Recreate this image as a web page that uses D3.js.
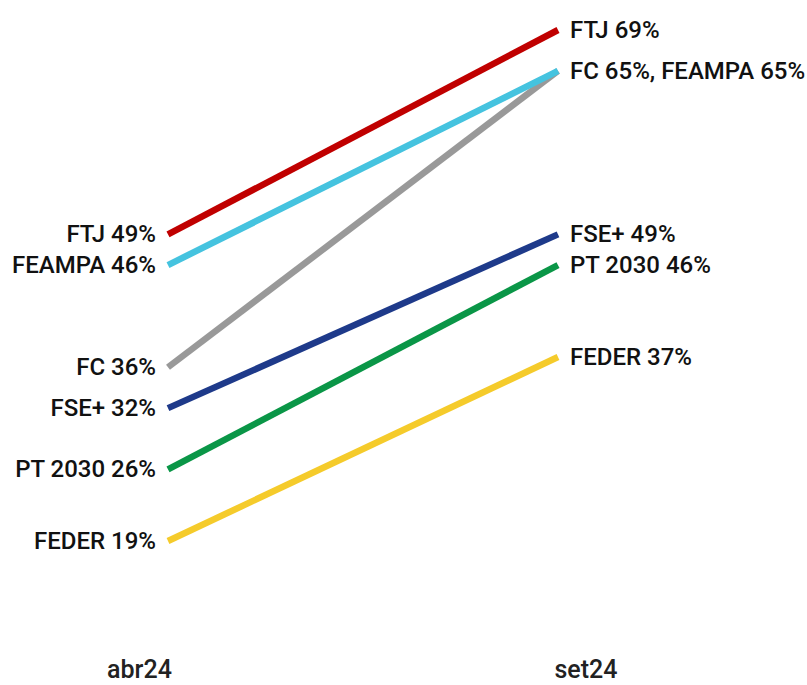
<!DOCTYPE html>
<html><head><meta charset="utf-8">
<script src="https://cdn.jsdelivr.net/npm/d3@7"></script>
<style>body{margin:0;background:#fff}svg{display:block}text{font-family:Roboto,"Noto Sans",sans-serif;font-weight:500;fill:#111}</style>
</head><body><svg id="c" width="807" height="685"></svg>
<script>
const periods = ["abr24", "set24"];
const series = ["FC", "FTJ", "FEAMPA", "FSE+", "PT 2030", "FEDER"];
const startValues = [36, 49, 46, 32, 26, 19];
const endValues = [65, 69, 65, 49, 46, 37];
const colors = ["#999999", "#c00000", "#45c3df", "#1e3a8a", "#0a9647", "#f5cb2b"];
const leftLabels = ["FC 36%", "FTJ 49%", "FEAMPA 46%", "FSE+ 32%", "PT 2030 26%", "FEDER 19%"];
const rightLabels = ["FTJ 69%", "FC 65%, FEAMPA 65%", "FSE+ 49%", "PT 2030 46%", "FEDER 37%"];
const rightLabelValues = [69, 65, 49, 46, 37];

const svg = d3.select("#c");
const x = d3.scalePoint().domain(periods).range([168, 558]);
const y = d3.scaleLinear().domain([19, 69]).range([541, 30]);

const data = series.map((s, i) => ({name: s, values: [startValues[i], endValues[i]], color: colors[i]}));
const line = d3.line().x((d, i) => x(periods[i])).y(d => y(d));

svg.append("g").selectAll("path").data(data).join("path")
  .attr("d", d => line(d.values))
  .attr("fill", "none").attr("stroke", d => d.color).attr("stroke-width", 6.5);

svg.append("g").selectAll("text").data(data).join("text")
  .attr("x", x(periods[0]) - 12).attr("y", (d, i) => y(startValues[i]))
  .attr("text-anchor", "end").attr("dominant-baseline", "central")
  .attr("font-size", 24).text((d, i) => leftLabels[i]);

svg.append("g").selectAll("text").data(rightLabels).join("text")
  .attr("x", x(periods[1]) + 12).attr("y", (d, i) => y(rightLabelValues[i]))
  .attr("text-anchor", "start").attr("dominant-baseline", "central")
  .attr("font-size", 24).text(d => d);

const xOff = [-28.5, 28];
svg.append("g").selectAll("text").data(periods).join("text")
  .attr("x", (d, i) => x(d) + xOff[i]).attr("y", 669)
  .attr("text-anchor", "middle").attr("dominant-baseline", "central")
  .attr("font-size", 25).style("fill", "#222").text(d => d);
</script></body></html>
